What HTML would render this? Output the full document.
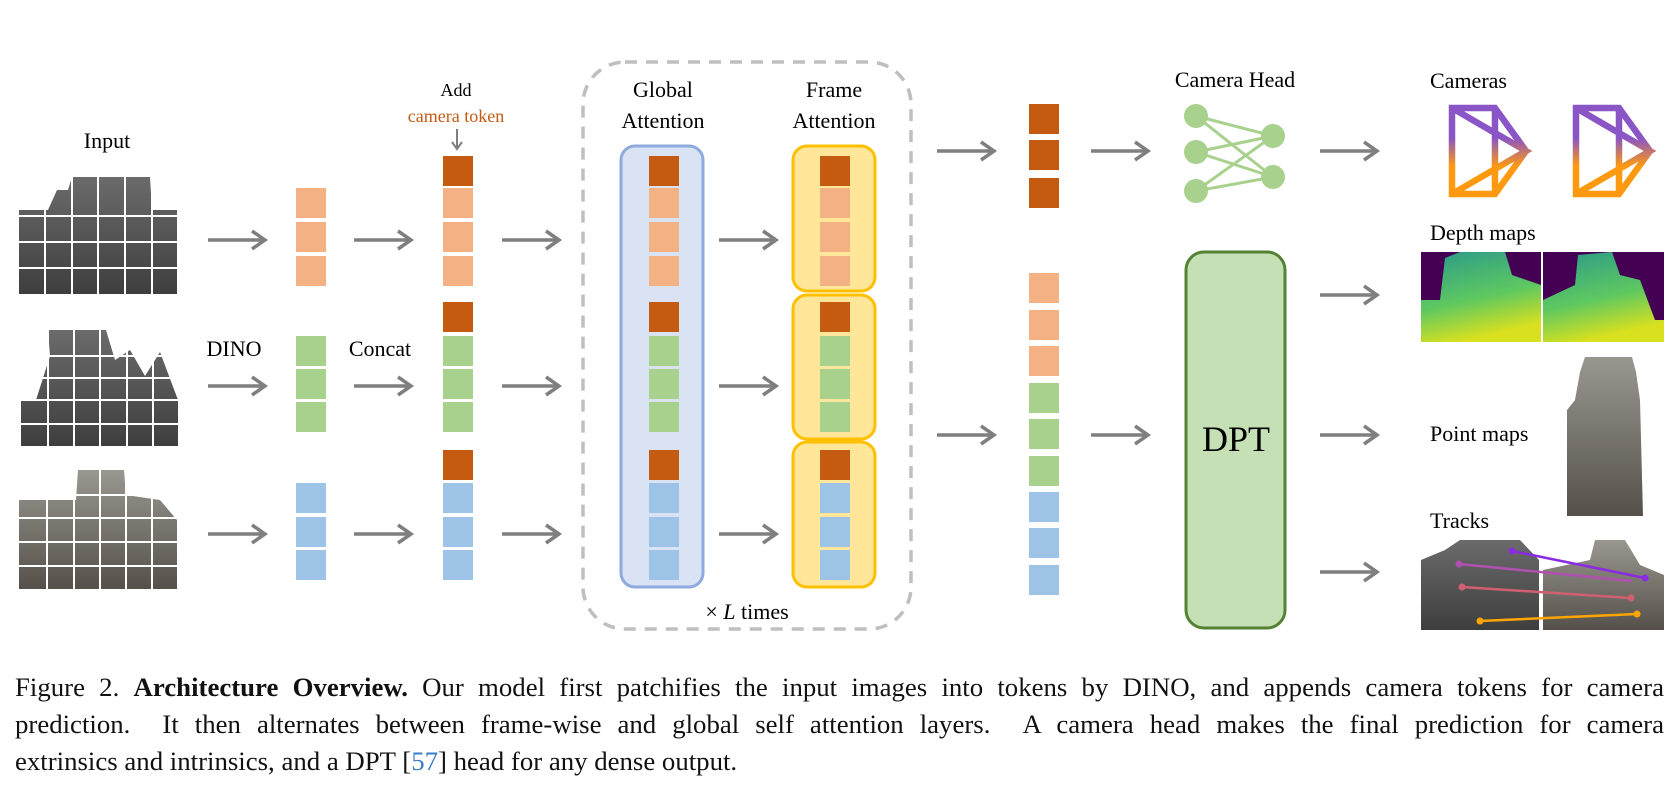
<!DOCTYPE html>
<html><head><meta charset="utf-8"><style>
body{margin:0;background:#fff;width:1680px;height:786px;overflow:hidden;position:relative;font-family:"Liberation Serif",serif}
svg{position:absolute;left:0;top:0}
.cap{position:absolute;left:15px;width:1649px;font-size:26.8px;line-height:36px;color:#111;text-align:justify;text-align-last:justify;white-space:nowrap}
.cap.last{text-align-last:left}
</style></head><body>
<svg width="1680" height="786" viewBox="0 0 1680 786" font-family="Liberation Serif, serif">
<defs>
<linearGradient id="cg" gradientUnits="userSpaceOnUse" x1="0" y1="0" x2="0" y2="86"><stop offset="0.35" stop-color="#8a55c6"/><stop offset="0.68" stop-color="#ff9a10"/></linearGradient>
<linearGradient id="st" x1="0" y1="0" x2="0" y2="1"><stop offset="0" stop-color="#6b6b6b"/><stop offset="1" stop-color="#3e3e3e"/></linearGradient>
<linearGradient id="st2" x1="0" y1="0" x2="0" y2="1"><stop offset="0" stop-color="#9a9690"/><stop offset="1" stop-color="#55504a"/></linearGradient>
<linearGradient id="dm" x1="0" y1="0" x2="0.3" y2="1"><stop offset="0" stop-color="#2a9a8a"/><stop offset="0.6" stop-color="#5ec860"/><stop offset="1" stop-color="#d8e020"/></linearGradient>
<g id="arr"><line x1="0" y1="0" x2="56" y2="0" stroke="#7f7f7f" stroke-width="3.5"/><path d="M44,-9 L57,0 L44,9" fill="none" stroke="#7f7f7f" stroke-width="3.5"/></g>
<g id="cam" fill="none" stroke="url(#cg)" stroke-width="6.5"><path d="M0,0 H43 L74,43 L43,86 H0 Z M43,0 V86 M0,0 L74,43 L0,86"/></g>
</defs>

<text x="107" y="148" font-size="22" text-anchor="middle">Input</text>
<polygon points="19,210 48,210 57,190 68,190 72,177 150,177 152,210 177,210 177,294 19,294" fill="url(#st)"/>
<polygon points="21,400 36,400 50,356 48,330 106,330 115,360 130,350 145,376 160,352 178,400 178,446 21,446" fill="url(#st)"/>
<polygon points="19,500 76,500 78,470 124,470 126,495 160,500 177,520 177,589 19,589" fill="url(#st2)"/>
<g stroke="#fff" stroke-width="2">
<path d="M19,216H177M19,242H177M19,268H177M45,177V294M72,177V294M98,177V294M125,177V294M152,177V294"/>
<path d="M21,356H178M21,378H178M21,400H178M21,424H178M48,327V446M74,327V446M100,327V446M127,327V446M153,327V446"/>
<path d="M19,495H177M19,518H177M19,542H177M19,566H177M47,470V589M74,470V589M100,470V589M126,470V589M152,470V589"/>
</g>

<g>
<use href="#arr" x="208" y="240"/><use href="#arr" x="208" y="386"/><use href="#arr" x="208" y="534"/>
<use href="#arr" x="354" y="240"/><use href="#arr" x="354" y="386"/><use href="#arr" x="354" y="534"/>
<use href="#arr" x="502" y="240"/><use href="#arr" x="502" y="386"/><use href="#arr" x="502" y="534"/>
<use href="#arr" x="719" y="240"/><use href="#arr" x="719" y="386"/><use href="#arr" x="719" y="534"/>
<use href="#arr" x="937" y="151"/><use href="#arr" x="937" y="435"/>
<use href="#arr" x="1091" y="151"/><use href="#arr" x="1091" y="435"/>
<use href="#arr" x="1320" y="151"/><use href="#arr" x="1320" y="295"/><use href="#arr" x="1320" y="435"/><use href="#arr" x="1320" y="572"/>
</g>
<text x="234" y="356" font-size="22" text-anchor="middle">DINO</text>
<text x="380" y="356" font-size="22" text-anchor="middle">Concat</text>
<text x="456" y="96" font-size="18" text-anchor="middle">Add</text>
<text x="456" y="122" font-size="18" text-anchor="middle" fill="#c55a11">camera token</text>
<line x1="457" y1="129" x2="457" y2="147" stroke="#7f7f7f" stroke-width="2"/><path d="M452,142 L457,149 L462,142" fill="none" stroke="#7f7f7f" stroke-width="2"/>

<g>
<rect x="296" y="188" width="30" height="30" fill="#f4b183"/><rect x="296" y="222" width="30" height="30" fill="#f4b183"/><rect x="296" y="256" width="30" height="30" fill="#f4b183"/>
<rect x="296" y="336" width="30" height="30" fill="#a9d18e"/><rect x="296" y="369" width="30" height="30" fill="#a9d18e"/><rect x="296" y="402" width="30" height="30" fill="#a9d18e"/>
<rect x="296" y="483" width="30" height="30" fill="#9dc3e6"/><rect x="296" y="517" width="30" height="30" fill="#9dc3e6"/><rect x="296" y="550" width="30" height="30" fill="#9dc3e6"/>
</g>

<rect x="583" y="62" width="328" height="567" rx="42" fill="none" stroke="#bfbfbf" stroke-width="3.5" stroke-dasharray="12,9"/>
<text x="663" y="97" font-size="22" text-anchor="middle">Global</text>
<text x="663" y="128" font-size="22" text-anchor="middle">Attention</text>
<text x="834" y="97" font-size="22" text-anchor="middle">Frame</text>
<text x="834" y="128" font-size="22" text-anchor="middle">Attention</text>
<rect x="621" y="146" width="82" height="441" rx="14" fill="#dae3f3" stroke="#8faadc" stroke-width="3"/>
<rect x="793" y="146" width="82" height="145" rx="14" fill="#ffe699" stroke="#ffc000" stroke-width="3"/>
<rect x="793" y="295" width="82" height="144" rx="14" fill="#ffe699" stroke="#ffc000" stroke-width="3"/>
<rect x="793" y="442" width="82" height="145" rx="14" fill="#ffe699" stroke="#ffc000" stroke-width="3"/>
<text x="747" y="619" font-size="22" text-anchor="middle">× <tspan font-style="italic">L</tspan> times</text>

<g id="col2">
<rect x="443" y="156" width="30" height="30" fill="#c55a11"/>
<rect x="443" y="188" width="30" height="30" fill="#f4b183"/><rect x="443" y="222" width="30" height="30" fill="#f4b183"/><rect x="443" y="256" width="30" height="30" fill="#f4b183"/>
<rect x="443" y="302" width="30" height="30" fill="#c55a11"/>
<rect x="443" y="336" width="30" height="30" fill="#a9d18e"/><rect x="443" y="369" width="30" height="30" fill="#a9d18e"/><rect x="443" y="402" width="30" height="30" fill="#a9d18e"/>
<rect x="443" y="450" width="30" height="30" fill="#c55a11"/>
<rect x="443" y="483" width="30" height="30" fill="#9dc3e6"/><rect x="443" y="517" width="30" height="30" fill="#9dc3e6"/><rect x="443" y="550" width="30" height="30" fill="#9dc3e6"/>
</g>
<use href="#col2" x="206"/>
<use href="#col2" x="377"/>

<g>
<rect x="1029" y="104" width="30" height="30" fill="#c55a11"/><rect x="1029" y="140" width="30" height="30" fill="#c55a11"/><rect x="1029" y="178" width="30" height="30" fill="#c55a11"/>
<rect x="1029" y="273" width="30" height="30" fill="#f4b183"/><rect x="1029" y="310" width="30" height="30" fill="#f4b183"/><rect x="1029" y="346" width="30" height="30" fill="#f4b183"/>
<rect x="1029" y="383" width="30" height="30" fill="#a9d18e"/><rect x="1029" y="419" width="30" height="30" fill="#a9d18e"/><rect x="1029" y="456" width="30" height="30" fill="#a9d18e"/>
<rect x="1029" y="492" width="30" height="30" fill="#9dc3e6"/><rect x="1029" y="528" width="30" height="30" fill="#9dc3e6"/><rect x="1029" y="565" width="30" height="30" fill="#9dc3e6"/>
</g>

<text x="1235" y="87" font-size="22" text-anchor="middle">Camera Head</text>
<g stroke="#a9d18e" stroke-width="3">
<path d="M1196,116L1273,136M1196,116L1273,177M1196,152L1273,136M1196,152L1273,177M1196,191L1273,136M1196,191L1273,177"/>
</g>
<g fill="#a9d18e"><circle cx="1196" cy="116" r="12"/><circle cx="1196" cy="152" r="12"/><circle cx="1196" cy="191" r="12"/><circle cx="1273" cy="136" r="12"/><circle cx="1273" cy="177" r="12"/></g>

<rect x="1186" y="252" width="99" height="376" rx="18" fill="#c5e0b4" stroke="#548235" stroke-width="3"/>
<text x="1236" y="451" font-size="36" text-anchor="middle">DPT</text>

<text x="1430" y="88" font-size="22">Cameras</text>
<use href="#cam" x="1452" y="108"/>
<use href="#cam" x="1576" y="108"/>
<text x="1430" y="240" font-size="22">Depth maps</text>
<rect x="1421" y="252" width="120" height="90" fill="#440154"/>
<polygon points="1445,258 1460,252 1505,252 1512,275 1541,285 1541,342 1421,342 1421,300 1440,300" fill="url(#dm)"/>
<rect x="1543" y="252" width="121" height="90" fill="#440154"/>
<polygon points="1543,300 1575,285 1578,255 1612,252 1620,275 1640,280 1655,320 1664,320 1664,342 1543,342" fill="url(#dm)"/>
<text x="1430" y="441" font-size="22">Point maps</text>
<polygon points="1580,372 1585,357 1632,357 1636,372 1640,400 1643,516 1567,516 1567,410 1575,400" fill="url(#st2)"/>
<text x="1430" y="528" font-size="22">Tracks</text>
<polygon points="1421,560 1445,550 1460,540 1520,540 1539,560 1539,630 1421,630" fill="url(#st)"/>
<polygon points="1543,570 1590,560 1595,540 1625,540 1640,565 1664,575 1664,630 1543,630" fill="url(#st2)"/>
<g stroke-width="2.5">
<line x1="1512" y1="551" x2="1645" y2="578" stroke="#8a2be2"/><circle cx="1512" cy="551" r="3.5" fill="#8a2be2"/><circle cx="1645" cy="578" r="3.5" fill="#8a2be2"/>
<line x1="1459" y1="564" x2="1632" y2="581" stroke="#b050b0"/><circle cx="1459" cy="564" r="3.5" fill="#b050b0"/>
<line x1="1462" y1="587" x2="1631" y2="598" stroke="#d06070"/><circle cx="1462" cy="587" r="3.5" fill="#d06070"/><circle cx="1631" cy="598" r="3.5" fill="#d06070"/>
<line x1="1480" y1="621" x2="1637" y2="614" stroke="#ffa500"/><circle cx="1480" cy="621" r="3.5" fill="#ffa500"/><circle cx="1637" cy="614" r="3.5" fill="#ffa500"/>
</g>
</svg>
<div class="cap" style="top:669px">Figure 2. <b>Architecture Overview.</b> Our model first patchifies the input images into tokens by DINO, and appends camera tokens for camera</div>
<div class="cap" style="top:706px">prediction. &nbsp;It then alternates between frame-wise and global self attention layers. &nbsp;A camera head makes the final prediction for camera</div>
<div class="cap last" style="top:743px">extrinsics and intrinsics, and a DPT [<span style="color:#3a7bc8">57</span>] head for any dense output.</div>
</body></html>
